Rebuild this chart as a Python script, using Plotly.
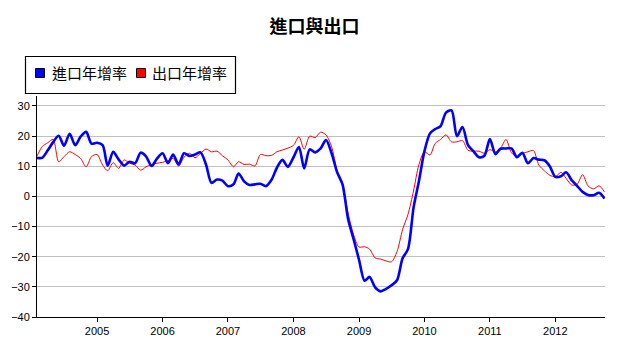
import pandas as pd
import plotly.graph_objects as go

start_month = "2004-02-01"
n_months = 105
year_ticks = ["2005", "2006", "2007", "2008", "2009", "2010", "2011", "2012"]

imports_yoy = [
    12.8, 12.8, 15.3, 18.0, 20.1, 16.8, 20.8, 17.0, 19.8, 21.4, 17.5,
    17.8, 17.0, 10.2, 14.8, 12.3, 10.2, 11.5, 11.0, 14.5, 13.3, 10.1, 12.5,
    14.3, 11.0, 13.9, 10.6, 14.3, 13.4, 13.9, 14.6, 10.5, 4.5, 5.6, 5.2,
    3.4, 4.0, 7.6, 5.0, 3.8, 4.0, 4.2, 3.4, 5.5, 9.5, 12.1, 9.8,
    12.9, 16.4, 9.3, 15.6, 14.6, 15.9, 18.7, 14.3, 8.0, 4.0, -7.5, -14.0,
    -21.0, -28.0, -26.7, -30.2, -31.5, -30.7, -29.5, -27.8, -20.5, -17.5, -3.8, 5.0,
    15.0, 20.9, 22.3, 23.3, 27.8, 28.5, 20.0, 23.0, 17.0, 15.0, 13.0, 13.5,
    19.0, 14.0, 15.8, 15.9, 15.9, 13.0, 14.5, 11.0, 12.7, 12.2, 12.0, 10.0,
    6.5, 6.7, 8.0, 5.4, 3.5, 1.5, 0.5, 0.4, 1.2, -0.7,
]

exports_yoy = [
    13.4, 16.5, 17.8, 18.9, 11.5, 13.2, 14.8, 13.9, 12.6, 9.8, 13.2,
    13.9, 10.4, 8.5, 11.2, 9.3, 12.1, 11.0, 10.4, 8.7, 9.8, 10.6, 11.0,
    11.3, 11.8, 12.6, 10.1, 13.0, 14.3, 12.8, 14.3, 15.7, 14.8, 15.0, 13.5,
    12.1, 9.8, 11.5, 10.6, 10.7, 10.1, 13.9, 13.5, 13.6, 14.8, 15.4, 16.0,
    16.9, 19.8, 15.6, 20.0, 19.5, 21.3, 20.4, 16.5, 8.5, 4.0, -5.5, -12.5,
    -16.8, -16.7, -17.5, -20.4, -20.8, -21.4, -21.7, -18.3, -11.0, -6.0, 1.8, 10.5,
    14.8, 13.7, 17.5, 18.9, 20.4, 18.1, 18.1, 18.5, 15.3, 15.0, 15.0, 14.3,
    15.5, 14.8, 15.9, 18.9, 14.5, 13.2, 14.2, 14.8, 15.2, 10.4, 8.5, 7.0,
    6.5, 8.0, 6.0, 3.8, 4.0, 7.2, 3.5, 2.5, 3.5, 1.5,
]

series_names = ["進口年增率", "出口年增率"]
series_colors = ["#0000ff", "#ff0000"]

dates = pd.date_range(start_month, periods=n_months, freq="MS")
tickvals = [f"{y}-01-01" for y in year_ticks]

W, H = 629, 353
ML, MR, MT, MB = 37, 24, 96, 36
PW, PH = W - ML - MR, H - MT - MB


def px_x(px):
    return (px - ML) / PW


def px_y(py):
    return (H - MB - py) / PH


fig = go.Figure()
fig.add_trace(go.Scatter(x=dates, y=exports_yoy, mode="lines", name=series_names[1],
                         line=dict(color=series_colors[1], width=1, shape="spline", smoothing=0.8)))
fig.add_trace(go.Scatter(x=dates, y=imports_yoy, mode="lines", name=series_names[0],
                         line=dict(color=series_colors[0], width=2.6, shape="spline", smoothing=0.8)))

# legend box (drawn to match the reference's compact legend)
shapes = [dict(type="rect", xref="paper", yref="paper",
               x0=px_x(25.5), x1=px_x(235.5), y0=px_y(56.5), y1=px_y(93.5),
               line=dict(color="black", width=1.2), fillcolor="white", layer="above")]
annotations = []
legend_items = [(35, 50), (136, 150)]
for (sq_x, tx_x), nm, col in zip(legend_items, series_names, series_colors):
    shapes.append(dict(type="rect", xref="paper", yref="paper",
                       x0=px_x(sq_x + 0.5), x1=px_x(sq_x + 9.5), y0=px_y(68.5), y1=px_y(77.5),
                       line=dict(color="black", width=1), fillcolor=col, layer="above"))
    annotations.append(dict(text=nm, xref="paper", yref="paper", x=px_x(tx_x), y=px_y(73),
                            xanchor="left", yanchor="middle", showarrow=False,
                            font=dict(family="Noto Sans CJK TC", size=15, color="black")))

fig.update_layout(
    width=W, height=H,
    margin=dict(l=ML, r=MR, t=MT, b=MB),
    paper_bgcolor="white", plot_bgcolor="white",
    title=dict(text="<b>進口與出口</b>", x=0.5, xref="container", xanchor="center",
               y=1 - 27 / 353, yref="container", yanchor="middle",
               font=dict(family="Noto Sans CJK TC", size=18, color="black")),
    showlegend=False,
    shapes=shapes,
    annotations=annotations,
)
fig.update_xaxes(range=["2004-02-01", "2012-10-04"], tickvals=tickvals, ticktext=year_ticks,
                 showgrid=False, showline=True, linecolor="black", linewidth=1,
                 ticks="outside", ticklen=4, tickcolor="black",
                 tickfont=dict(family="Arial", size=11, color="black"), zeroline=False)
fig.update_yaxes(range=[-40, 33.3], tick0=0, dtick=10, showgrid=True, gridcolor="#c0c0c0",
                 showline=True, linecolor="black", linewidth=1,
                 ticks="outside", ticklen=4, tickcolor="black",
                 tickfont=dict(family="Arial", size=11, color="black"), zeroline=False)

fig.write_html("out.html")
